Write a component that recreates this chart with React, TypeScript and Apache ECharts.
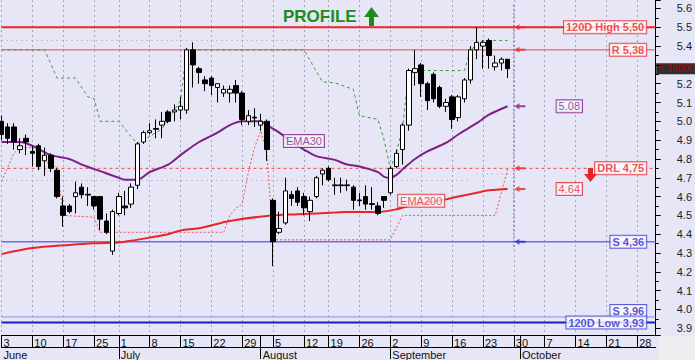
import React, { useEffect, useRef } from "react";
import * as echarts from "echarts";

// ---------- data ----------
const FIRST_DAY = "2013-06-03";
const LAST_DAY = "2013-10-31";
const HOLIDAYS = ["2013-06-24", "2013-08-15"];
const MONTH_NAMES = ["January", "February", "March", "April", "May", "June", "July", "August", "September", "October", "November", "December"];

const opens = [
  5.00, 4.97, 4.97, 4.85, 4.91, 4.84, 4.87, 4.79, 4.82, 4.74,
  4.55, 4.55, 4.60, 4.65, 4.612, 4.60, 4.60, 4.47, 4.31, 4.51,
  4.55, 4.56, 4.66, 4.89, 4.94, 4.962, 4.98, 5.05, 5.05, 5.06,
  5.06, 5.38, 5.28, 5.22, 5.23, 5.18, 5.15, 5.15, 5.19, 5.15,
  5.00, 5.022, 4.98, 5.00, 4.58, 4.41, 4.46, 4.61, 4.63, 4.60,
  4.52, 4.60, 4.72, 4.75, 4.662, 4.662, 4.662, 4.65, 4.582, 4.60,
  4.562, 4.55, 4.60, 4.62, 4.76, 4.85, 4.98, 5.26, 5.30, 5.20,
  5.25, 5.18, 5.08, 5.13, 5.02, 5.12, 5.22, 5.38, 5.40, 5.43,
  5.29, 5.31, 5.33,
];
const closes = [
  4.93, 4.91, 4.89, 4.87, 4.89, 4.83, 4.76, 4.82, 4.75, 4.60,
  4.50, 4.52, 4.62, 4.61, 4.608, 4.55, 4.48, 4.41, 4.52, 4.60,
  4.54, 4.65, 4.88, 4.94, 4.95, 4.958, 5.00, 5.00, 5.06, 5.08,
  5.38, 5.30, 5.26, 5.20, 5.19, 5.20, 5.17, 5.17, 5.15, 5.01,
  5.03, 5.018, 5.00, 4.85, 4.36, 4.43, 4.63, 4.59, 4.57, 4.54,
  4.58, 4.70, 4.74, 4.69, 4.658, 4.658, 4.658, 4.58, 4.578, 4.56,
  4.558, 4.51, 4.58, 4.75, 4.83, 4.98, 5.27, 5.28, 5.20, 5.11,
  5.12, 5.08, 5.10, 5.01, 5.13, 5.22, 5.38, 5.42, 5.42, 5.35,
  5.31, 5.33, 5.28,
];
const lows = [
  4.90, 4.88, 4.85, 4.83, 4.82, 4.76, 4.74, 4.71, 4.73, 4.59,
  4.44, 4.51, 4.51, 4.59, 4.55, 4.53, 4.42, 4.40, 4.29, 4.50,
  4.50, 4.54, 4.64, 4.88, 4.93, 4.91, 4.91, 4.99, 5.00, 5.01,
  5.04, 5.18, 5.20, 5.16, 5.14, 5.10, 5.13, 5.10, 5.10, 4.98,
  4.98, 4.97, 4.95, 4.79, 4.23, 4.40, 4.45, 4.55, 4.55, 4.50,
  4.47, 4.59, 4.66, 4.68, 4.61, 4.62, 4.63, 4.53, 4.55, 4.53,
  4.53, 4.50, 4.54, 4.61, 4.75, 4.77, 4.95, 5.19, 5.13, 5.06,
  5.10, 5.07, 5.05, 4.96, 5.00, 5.10, 5.20, 5.33, 5.28, 5.28,
  5.27, 5.27, 5.23,
];
const highs = [
  5.03, 4.99, 4.99, 4.91, 4.93, 4.87, 4.88, 4.86, 4.83, 4.75,
  4.60, 4.56, 4.68, 4.67, 4.65, 4.60, 4.60, 4.51, 4.53, 4.62,
  4.63, 4.67, 4.89, 4.95, 4.99, 5.01, 5.05, 5.06, 5.09, 5.13,
  5.39, 5.42, 5.29, 5.24, 5.24, 5.20, 5.19, 5.19, 5.22, 5.16,
  5.06, 5.07, 5.04, 5.01, 4.59, 4.52, 4.70, 4.63, 4.65, 4.62,
  4.60, 4.71, 4.75, 4.76, 4.70, 4.70, 4.69, 4.66, 4.62, 4.66,
  4.65, 4.57, 4.60, 4.76, 4.85, 4.99, 5.28, 5.38, 5.31, 5.21,
  5.26, 5.19, 5.12, 5.14, 5.14, 5.23, 5.40, 5.50, 5.43, 5.44,
  5.35, 5.34, 5.33,
];

// [trading-day index, value]
const ema30 = [
  [0, 4.89], [3, 4.89], [5, 4.87], [8, 4.82], [11, 4.80], [13, 4.77], [16, 4.735], [19, 4.70],
  [20, 4.69], [22, 4.69], [24, 4.73], [27, 4.77], [29, 4.82], [32, 4.89], [35, 4.94], [37, 4.98],
  [39, 5.0], [42, 5.0], [43, 4.98], [45, 4.94], [47, 4.89], [49, 4.85], [51, 4.815], [54, 4.795],
  [56, 4.77], [58, 4.76], [61, 4.73], [62, 4.705], [63, 4.70], [64, 4.715], [65, 4.745], [67, 4.80],
  [69, 4.84], [72, 4.885], [74, 4.93], [77, 4.99], [79, 5.035], [82, 5.08],
];
const ema200 = [
  [0, 4.294], [5, 4.326], [11, 4.343], [15, 4.352], [19, 4.356], [21, 4.365], [24, 4.382], [27, 4.40],
  [29, 4.42], [32, 4.432], [37, 4.47], [43, 4.497], [48, 4.506], [54, 4.515], [56, 4.518], [61, 4.518],
  [64, 4.532], [66, 4.55], [69, 4.568], [72, 4.585], [74, 4.60], [77, 4.62], [79, 4.633], [82, 4.64],
];
const upperStop = [
  [0, 5.38], [7, 5.38], [9, 5.23], [12, 5.23], [14, 5.13], [15, 5.12], [16, 5.0], [19, 5.0],
  [22, 4.88], [26, 4.96], [29, 5.11], [30, 5.38], [49, 5.38], [52, 5.21], [54, 5.205], [57, 5.17],
  [58, 5.03], [61, 5.01], [62, 4.90], [63, 4.75], [64, 4.835], [65, 4.97], [66, 5.27], [75, 5.27],
  [76, 5.38], [78, 5.43], [82, 5.43],
];
const lowerStop = [
  [0, 4.68], [2, 4.83], [3, 4.86], [5, 4.86], [6, 4.83], [8, 4.76], [9, 4.76], [10, 4.50],
  [15, 4.49], [16, 4.41], [36, 4.41], [37, 4.50], [38, 4.54], [39, 4.56], [40, 4.73], [41, 4.86],
  [42, 4.95], [43, 4.83], [44, 4.37], [63, 4.37], [65, 4.50], [80, 4.50], [82, 4.745],
];
const priorHighLine = [[0, 5.43], [78, 5.43]];
const priorLowLine = [[0, 4.685], [76, 4.685]];
const recentLowLine = [[77, 4.72], [82, 4.72]];

const levelNames = ["120D High", "R", "DRL", "S", "S", "120D Low"];
const levelValues = [5.50, 5.38, 4.75, 4.36, 3.96, 3.93];

const Y_MIN = 3.864;
const Y_MAX = 5.645;
const SESSION_LINE = [5.62, 4.32];

// ---------- helpers ----------
function buildTradingDays(first: string, last: string, holidays: string[]) {
  const out: string[] = [];
  const d = new Date(first + "T00:00:00Z");
  const end = new Date(last + "T00:00:00Z");
  while (d <= end) {
    const dow = d.getUTCDay();
    const s = d.toISOString().slice(0, 10);
    if (dow !== 0 && dow !== 6 && holidays.indexOf(s) < 0) out.push(s);
    d.setUTCDate(d.getUTCDate() + 1);
  }
  return out;
}

const FONT = "Liberation Sans";
const RED = "#e8262a";
const PURPLE = "#7e1f86";
const BLUE = "#2a2ad0";

export default function App() {
  const ref = useRef<HTMLDivElement>(null);

  useEffect(() => {
    if (!ref.current) return;
    const chart = echarts.init(ref.current, null, { renderer: "svg" });

    const dates = buildTradingDays(FIRST_DAY, LAST_DAY, HOLIDAYS);
    const dow = (s: string) => new Date(s + "T00:00:00Z").getUTCDay();
    const isWeekStart = (i: number) => i === 0 || dow(dates[i]) <= dow(dates[i - 1]);
    const isMonthStart = (i: number) => i > 0 && dates[i].slice(5, 7) !== dates[i - 1].slice(5, 7);
    const lastIdx = dates.length - 1;

    const candleData = opens.map((o, i) => [o, closes[i], lows[i], highs[i]]);
    const sessionIdx = closes.length; // first session after the last candle
    const arrowIdx = sessionIdx + 1;
    const boxIdx = sessionIdx + 9;
    const lastEma30 = ema30[ema30.length - 1][1];
    const lastEma200 = ema200[ema200.length - 1][1];
    const lastClose = closes[closes.length - 1];
    const fmtComma = (v: number) => v.toFixed(2).replace(".", ",");

    const levelStyle = [
      { color: RED, width: 2, type: "solid" },
      { color: "#f04a4a", width: 1, type: "solid" },
      { color: "#f04a4a", width: 1, type: [3, 3] },
      { color: "#6d6df0", width: 1.5, type: "solid" },
      { color: "#8c8cf2", width: 1, type: "solid" },
      { color: "#1f1fc0", width: 2, type: "solid" },
    ];
    const levelTextColor = [RED, RED, RED, BLUE, BLUE, BLUE];

    const levelSeries = levelValues.map((v, k) => ({
      type: "line",
      data: [[0, v], [lastIdx, v]],
      showSymbol: false,
      symbol: "none",
      silent: true,
      z: 1,
      lineStyle: levelStyle[k],
    }));

    const levelLabels = {
      type: "scatter",
      symbol: "rect",
      symbolSize: 1,
      itemStyle: { color: "rgba(0,0,0,0)" },
      silent: true,
      z: 10,
      data: levelValues.map((v, k) => ({
        value: [lastIdx, v],
        label: {
          show: true,
          formatter: `${levelNames[k]} ${fmtComma(v)}`,
          position: "left",
          distance: 9,
          offset: levelNames[k] === "S" && v < 4 ? [0, -6] : [0, 0],
          color: levelTextColor[k],
          fontWeight: "bold",
          fontSize: 11,
          fontFamily: FONT,
          backgroundColor: "#ffffff",
          borderColor: levelTextColor[k] === RED ? RED : "#3a3ad8",
          borderWidth: 1,
          padding: [1, 2, 0, 2],
        },
      })),
    };

    const arrowPath = "path://M0,3L5,0L5,2L11,2L11,4L5,4L5,6Z";
    const arrowItems = [
      { v: levelValues[0], c: RED },
      { v: levelValues[1], c: RED },
      { v: lastEma30, c: PURPLE },
      { v: levelValues[2], c: RED },
      { v: lastEma200, c: RED },
      { v: levelValues[3], c: BLUE },
    ];

    const boxLabel = (text: string, color: string) => ({
      show: true,
      formatter: text,
      position: "inside",
      color,
      fontSize: 11,
      fontFamily: FONT,
      backgroundColor: "#f6f6ff",
      borderColor: color,
      borderWidth: 1,
      padding: [1, 2, 0, 2],
    });

    const option: any = {
      animation: false,
      backgroundColor: "transparent",
      textStyle: { fontFamily: FONT },
      grid: { left: 1.5, right: 36.5, top: 0, bottom: 24, containLabel: false },
      xAxis: [
        {
          type: "category",
          data: dates,
          boundaryGap: false,
          position: "bottom",
          axisLine: { show: true, lineStyle: { color: "#000", width: 1 } },
          axisTick: {
            show: true,
            length: 12,
            interval: (i: number) => isWeekStart(i) || isMonthStart(i),
            lineStyle: { color: "#000" },
          },
          axisLabel: {
            interval: (i: number) => isWeekStart(i),
            formatter: (s: string) => String(Number(s.slice(8, 10))),
            align: "left",
            margin: 2,
            padding: [0, 0, 0, 2],
            fontSize: 11,
            color: "#111",
            fontFamily: FONT,
          },
          splitLine: {
            show: true,
            interval: (i: number) => isWeekStart(i),
            lineStyle: { color: "#a6a6ba", type: [2, 3], width: 1 },
          },
        },
        {
          type: "category",
          data: dates,
          boundaryGap: false,
          position: "bottom",
          offset: 12,
          axisLine: { show: true, lineStyle: { color: "#000", width: 1 } },
          axisTick: {
            show: true,
            length: 12,
            interval: (i: number) => isMonthStart(i),
            lineStyle: { color: "#000" },
          },
          axisLabel: {
            interval: (i: number) => i === 0 || isMonthStart(i),
            formatter: (s: string) => MONTH_NAMES[Number(s.slice(5, 7)) - 1],
            align: "left",
            margin: 2,
            padding: [0, 0, 0, 2],
            fontSize: 11,
            color: "#111",
            fontFamily: FONT,
          },
          splitLine: { show: false },
        },
      ],
      yAxis: {
        type: "value",
        position: "right",
        min: Y_MIN,
        max: Y_MAX,
        minInterval: 0.1,
        maxInterval: 0.1,
        axisLine: { show: true, lineStyle: { color: "#000" } },
        axisTick: { show: true, length: 5, lineStyle: { color: "#000" } },
        minorTick: { show: true, splitNumber: 2, length: 3, lineStyle: { color: "#000" } },
        splitLine: { show: false },
        axisLabel: {
          margin: 21,
          fontSize: 11,
          color: "#222",
          fontFamily: FONT,
          showMinLabel: false,
          showMaxLabel: false,
          formatter: (v: number) => {
            if (Math.abs(v * 10 - Math.round(v * 10)) > 1e-6) return "";
            // the last-price box covers the tick label next to it
            if (Math.abs(v - lastClose) < 0.045) return "";
            return v.toFixed(1);
          },
        },
      },
      series: [
        ...levelSeries,
        ...[priorHighLine, priorLowLine, recentLowLine].map((d) => ({
          type: "line",
          data: d,
          symbol: "none",
          silent: true,
          z: 1,
          lineStyle: { color: "#9a9ab0", width: 1, type: [1, 4] },
        })),
        {
          type: "line",
          data: upperStop,
          symbol: "none",
          silent: true,
          z: 2,
          lineStyle: { color: "#3c9a3c", width: 1, type: [3, 3] },
        },
        {
          type: "line",
          data: lowerStop,
          symbol: "none",
          silent: true,
          z: 2,
          lineStyle: { color: "#f05555", width: 1, type: [2, 2] },
        },
        {
          type: "line",
          data: ema200,
          symbol: "none",
          smooth: 0.3,
          silent: true,
          z: 3,
          lineStyle: { color: RED, width: 2 },
        },
        {
          type: "line",
          data: ema30,
          symbol: "none",
          smooth: 0.3,
          silent: true,
          z: 3,
          lineStyle: { color: PURPLE, width: 2 },
        },
        {
          type: "candlestick",
          data: candleData,
          barWidth: 5,
          z: 5,
          silent: true,
          itemStyle: {
            color: "#ffffff",
            color0: "#000000",
            borderColor: "#000000",
            borderColor0: "#000000",
            borderWidth: 1,
          },
        },
        {
          type: "line",
          data: [[sessionIdx, SESSION_LINE[0]], [sessionIdx, SESSION_LINE[1]]],
          symbol: "none",
          silent: true,
          z: 4,
          lineStyle: { color: "#c03aa6", width: 1, type: [2, 2] },
        },
        {
          type: "scatter",
          symbol: arrowPath,
          symbolSize: [11, 6],
          silent: true,
          z: 8,
          data: arrowItems.map((a) => ({ value: [arrowIdx, a.v], itemStyle: { color: a.c } })),
        },
        levelLabels,
        {
          type: "scatter",
          symbol: "rect",
          symbolSize: 1,
          itemStyle: { color: "rgba(0,0,0,0)" },
          silent: true,
          z: 10,
          data: [
            { value: [boxIdx, lastEma30], label: boxLabel(lastEma30.toFixed(2), PURPLE) },
            { value: [boxIdx, lastEma200], label: boxLabel(lastEma200.toFixed(2), RED) },
            { value: [49, 4.895], label: boxLabel("EMA30", PURPLE) },
            { value: [68, 4.578], label: boxLabel("EMA200", RED) },
            {
              value: [lastIdx, lastClose],
              label: {
                show: true,
                formatter: lastClose.toFixed(5),
                position: "right",
                distance: 0,
                color: "#c00000",
                fontSize: 10,
                fontFamily: FONT,
                backgroundColor: "#000000",
                padding: [1, 1, 0, 2],
              },
            },
          ],
        },
      ],
      graphic: [
        {
          type: "rect",
          shape: { x: 658.5, y: 336.5, width: 40, height: 30 },
          style: { fill: "#efeff1" },
          z: 100,
        },
        {
          type: "text",
          x: 283,
          y: 16,
          style: {
            text: "PROFILE",
            fill: "#1c8c1c",
            font: `bold 17px "${FONT}"`,
            verticalAlign: "middle",
          },
          z: 100,
        },
        {
          type: "polygon",
          shape: {
            points: [[364, 17], [371.5, 7], [379, 17], [374, 17], [374, 26], [369, 26], [369, 17]],
          },
          style: { fill: "#1c8c1c" },
          z: 100,
        },
        {
          type: "polygon",
          shape: {
            points: [[588, 168], [593, 168], [593, 174], [597, 174], [590.5, 182], [584, 174], [588, 174]],
          },
          style: { fill: "#e8262a" },
          z: 100,
        },
      ],
    };

    chart.setOption(option);
    return () => chart.dispose();
  }, []);

  return (
    <div
      ref={ref}
      style={{
        position: "fixed",
        left: 0,
        top: 0,
        width: 695,
        height: 360,
        background: "#e6e6f6",
      }}
    />
  );
}
